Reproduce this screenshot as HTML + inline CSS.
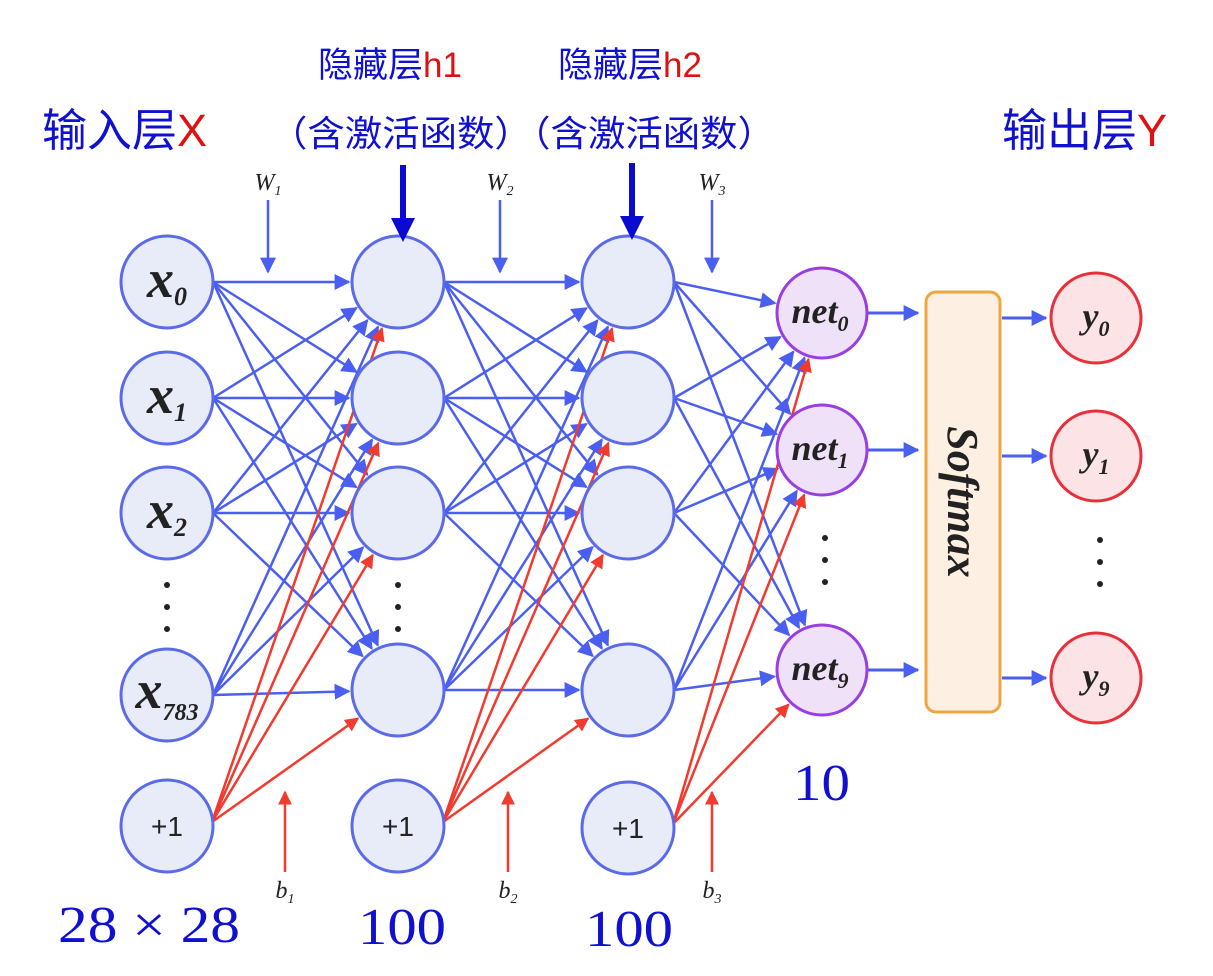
<!DOCTYPE html>
<html><head><meta charset="utf-8"><style>
body{margin:0;background:#fff;}
svg{display:block;}
</style></head><body>
<svg id="s" width="1213" height="976" xmlns="http://www.w3.org/2000/svg">
<defs>
<marker id="abl" viewBox="0 0 10 10" refX="9" refY="5" markerWidth="16" markerHeight="16" orient="auto" markerUnits="userSpaceOnUse"><path d="M0,0L10,5L0,10z" fill="#4a5ff0"/></marker>
<marker id="ar" viewBox="0 0 10 10" refX="9" refY="5" markerWidth="14" markerHeight="14" orient="auto" markerUnits="userSpaceOnUse"><path d="M0,0L10,5L0,10z" fill="#f23a2e"/></marker>
</defs>
<g id="lines"></g>
<g id="nodes"></g>
<g font-family="'Liberation Sans','Noto Sans CJK SC',sans-serif">
<text x="42" y="146" font-size="45" fill="#1010d0">输入层<tspan fill="#e01010">X</tspan></text>
<text x="318" y="77" font-size="35" fill="#1010d0">隐藏层<tspan fill="#e01010">h1</tspan></text>
<text x="558" y="77" font-size="35" fill="#1010d0">隐藏层<tspan fill="#e01010">h2</tspan></text>
<text x="270" y="146" font-size="36" fill="#1010d0" textLength="505" lengthAdjust="spacingAndGlyphs">（含激活函数）（含激活函数）</text>
<text x="1002" y="146" font-size="45" fill="#1010d0">输出层<tspan fill="#e01010">Y</tspan></text>
</g>
<g font-family="'Liberation Serif',serif" fill="#1010d0" font-size="52">
<text x="58" y="942" textLength="182" lengthAdjust="spacingAndGlyphs">28 × 28</text>
<text x="358" y="944" textLength="88" lengthAdjust="spacingAndGlyphs">100</text>
<text x="585" y="946" textLength="88" lengthAdjust="spacingAndGlyphs">100</text>
<text x="793" y="800" textLength="57" lengthAdjust="spacingAndGlyphs">10</text>
</g>
<line x1="403" y1="165" x2="403" y2="222" stroke="#0a0ad0" stroke-width="6"/>
<path d="M391,218L415,218L403,242z" fill="#0a0ad0"/>
<line x1="632" y1="163" x2="632" y2="220" stroke="#0a0ad0" stroke-width="6"/>
<path d="M620,216L644,216L632,240z" fill="#0a0ad0"/>
<rect x="926" y="292" width="74" height="420" rx="10" fill="#fdf0e2" stroke="#f0a640" stroke-width="3"/>
<text transform="translate(948,502) rotate(90)" text-anchor="middle" font-family="'Liberation Serif',serif" font-style="italic" font-weight="bold" font-size="44" fill="#222">Softmax</text>
</svg>
<script>
var NS="http://www.w3.org/2000/svg";
var L=document.getElementById('lines'),N=document.getElementById('nodes');
function el(p,t,a){var e=document.createElementNS(NS,t);for(var k in a)e.setAttribute(k,a[k]);p.appendChild(e);return e;}
var c1={x:167,ys:[282,398,513,695],b:826},c2={x:398,ys:[282,398,513,690],b:826},c3={x:628,ys:[282,398,513,690],b:828};
var c4={x:822,ys:[313,450,670]};
var R=46;
function conn(sx,sy,tx,ty,tr,col,mk){var x1,y1;
 if(col=='#4a5ff0'){x1=sx+R;y1=sy;}else{x1=sx+45;y1=sy-4;}
 var dx=tx-x1,dy=ty-y1,d=Math.hypot(dx,dy);
 var x2=tx-(tr+3)*dx/d,y2=ty-(tr+3)*dy/d;
 el(L,'line',{x1:x1,y1:y1,x2:x2,y2:y2,stroke:col,'stroke-width':2.5,'marker-end':'url(#'+mk+')'});}
function layer(a,b,tr){a.ys.forEach(function(sy){b.ys.forEach(function(ty){conn(a.x,sy,b.x,ty,tr,'#4a5ff0','abl');});});
 b.ys.forEach(function(ty){conn(a.x,a.b,b.x,ty,tr,'#f23a2e','ar');});}
layer(c1,c2,R);layer(c2,c3,R);layer(c3,c4,45);
function circ(x,y,r,f,s){el(N,'circle',{cx:x,cy:y,r:r,fill:f,stroke:s,'stroke-width':3});}
[c1,c2,c3].forEach(function(c){c.ys.forEach(function(y){circ(c.x,y,R,'#e8ebf8','#5a6ae8');});circ(c.x,c.b,R,'#e8ebf8','#5a6ae8');});
c4.ys.forEach(function(y){circ(c4.x,y,45,'#efe2f8','#9a3ee0');});
var oy=[318,456,678];oy.forEach(function(y,i){circ(1096,y,45,'#fbe3e6','#e8303a');
 el(L,'line',{x1:868,y1:c4.ys[i],x2:918,y2:c4.ys[i],stroke:'#4a5ff0','stroke-width':3,'marker-end':'url(#abl)'});
 el(L,'line',{x1:1002,y1:y,x2:1046,y2:y,stroke:'#4a5ff0','stroke-width':3,'marker-end':'url(#abl)'});});
function txt(x,y,s,sz){var t=el(N,'text',{x:x,y:y,'font-family':"'Liberation Serif',serif",'font-size':sz,'font-style':'italic','font-weight':'bold','text-anchor':'middle',fill:'#222'});t.innerHTML=s;return t;}
txt(167,297,'x<tspan font-size="26" dy="8">0</tspan>',54);
txt(167,413,'x<tspan font-size="26" dy="8">1</tspan>',54);
txt(167,528,'x<tspan font-size="26" dy="8">2</tspan>',54);
txt(167,708,'x<tspan font-size="24" dy="12">783</tspan>',54);
[c1,c2,c3].forEach(function(c){var t=el(N,'text',{x:c.x,y:c.b+10,'font-family':"'Liberation Sans',sans-serif",'font-size':28,'text-anchor':'middle',fill:'#222'});t.textContent='+1';});
['0','1','9'].forEach(function(s,i){txt(820,c4.ys[i]+10,'net<tspan font-size="22" dy="8">'+s+'</tspan>',36);});
['0','1','9'].forEach(function(s,i){txt(1096,oy[i]+10,'y<tspan font-size="22" dy="8">'+s+'</tspan>',36);});
function dots(x,y0){for(var i=0;i<3;i++)el(N,'circle',{cx:x,cy:y0+i*22,r:3,fill:'#222'});}
dots(167,585);dots(398,585);dots(825,538);dots(1100,540);
[[268,'1'],[500,'2'],[712,'3']].forEach(function(w){txt(w[0],190,'W<tspan font-size="14" dy="5">'+w[1]+'</tspan>',24).setAttribute('font-weight','normal');
 el(L,'line',{x1:w[0],y1:200,x2:w[0],y2:272,stroke:'#4a5ff0','stroke-width':2.5,'marker-end':'url(#abl)'});});
[[285,'1'],[508,'2'],[712,'3']].forEach(function(b){txt(b[0],898,'b<tspan font-size="14" dy="5">'+b[1]+'</tspan>',24).setAttribute('font-weight','normal');
 el(L,'line',{x1:b[0],y1:872,x2:b[0],y2:792,stroke:'#f23a2e','stroke-width':2.5,'marker-end':'url(#ar)'});});
</script>
</body></html>
